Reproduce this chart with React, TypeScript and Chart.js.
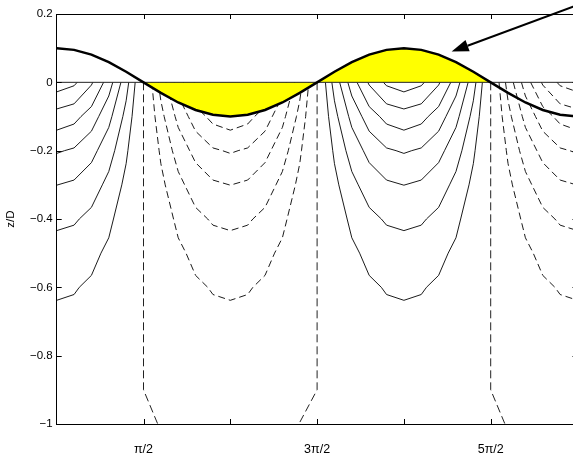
import React, { useEffect, useRef } from 'react';
import { Chart, registerables } from 'chart.js';

Chart.register(...registerables);

// x values are in units of π
const X_MIN = 0;
const X_MAX = 3;
const Y_MIN = -1;
const Y_MAX = 0.2;
const X_TICKS = [0.5, 1, 1.5, 2, 2.5];
const X_TICK_LABELS = ['π/2', '', '3π/2', '', '5π/2'];
const Y_TICKS = [-1, -0.8, -0.6, -0.4, -0.2, 0, 0.2];
const Y_TICK_LABELS = ['−1', '−0.8', '−0.6', '−0.4', '−0.2', '0', '0.2'];
const Y_TITLE = 'z/D';

// free surface elevation
const ETA_X = [0, 0.1, 0.2, 0.3, 0.4, 0.5, 0.6, 0.7, 0.8, 0.9, 1, 1.1, 1.2, 1.3, 1.4, 1.5, 1.6, 1.7, 1.8, 1.9, 2,
  2.1, 2.2, 2.3, 2.4, 2.5, 2.6, 2.7, 2.8, 2.9, 3];
const ETA = [0.1, 0.095, 0.081, 0.059, 0.031, 0, -0.031, -0.059, -0.081, -0.095, -0.1, -0.095, -0.081, -0.059,
  -0.031, 0, 0.031, 0.059, 0.081, 0.095, 0.1, 0.095, 0.081, 0.059, 0.031, 0, -0.031, -0.059, -0.081, -0.095, -0.1];
const FILL_START = 0.5;
const FILL_END = 2.5;

// half-U contour shapes: [offset from lobe centre (units of π), z/D]
const LEVEL_1 = [[0, -0.028], [0.1, -0.010], [0.118, 0]];
const LEVEL_2 = [[0, -0.078], [0.1, -0.063], [0.2, -0.008], [0.208, 0]];
const LEVEL_3 = [[0, -0.14], [0.1, -0.122], [0.14, -0.1], [0.2, -0.071], [0.27, 0]];
const LEVEL_4 = [[0, -0.208], [0.045, -0.2], [0.1, -0.192], [0.2, -0.143], [0.242, -0.1], [0.3, -0.04], [0.323, 0]];
const LEVEL_5 = [[0, -0.301], [0.1, -0.286], [0.2, -0.235], [0.234, -0.2], [0.3, -0.132], [0.318, -0.1], [0.37, 0]];
const LEVEL_6 = [[0, -0.434], [0.1, -0.418], [0.13, -0.4], [0.2, -0.366], [0.263, -0.3], [0.3, -0.261],
  [0.334, -0.2], [0.381, -0.1], [0.4, -0.054], [0.415, 0]];
const LEVEL_7 = [[0, -0.638], [0.1, -0.621], [0.13, -0.6], [0.2, -0.565], [0.255, -0.5], [0.3, -0.455],
  [0.327, -0.4], [0.375, -0.3], [0.4, -0.238], [0.41, -0.2], [0.434, -0.1], [0.452, 0]];
const LEVELS = [LEVEL_1, LEVEL_2, LEVEL_3, LEVEL_4, LEVEL_5, LEVEL_6, LEVEL_7];

// lobes: centre (units of π), dashed or solid, which halves are visible
const LOBE_CENTERS = [0, 1, 2, 3];
const LOBE_DASHED = [false, true, false, true];
const LOBE_SIDES = [[1], [-1, 1], [-1, 1], [-1]];

// zero contours
const ZERO_CONTOUR_1 = [[0.5, 0], [0.5, -0.9], [0.582, -1]];
const ZERO_CONTOUR_2 = [[1.5, 0], [1.5, -0.9], [1.395, -1]];
const ZERO_CONTOUR_3 = [[2.5, 0], [2.5, -0.9], [2.582, -1]];
const ZERO_CONTOURS = [ZERO_CONTOUR_1, ZERO_CONTOUR_2, ZERO_CONTOUR_3];

// annotation arrow (data units)
const ARROW_HEAD = [2.275, 0.09];
const ARROW_TAIL = [3.1, 0.245];

const CANVAS_W = 600;
const CANVAS_H = 457;
const FONT_FAMILY = '"Liberation Sans", Arial, Helvetica, sans-serif';
const Y_FONT = { family: FONT_FAMILY, size: 11.5 };
const X_FONT = { family: FONT_FAMILY, size: 12.5 };

function toPts(arr: number[][]) {
  return arr.map(([x, y]) => ({ x, y }));
}

const framePlugin = {
  id: 'frame',
  afterDraw(chart: any) {
    const { ctx, chartArea, scales } = chart;
    const { left, right, top, bottom } = chartArea;
    const xs = scales.x;
    const ys = scales.y;
    const al = (v: number) => Math.round(v) + 0.5;
    ctx.save();
    ctx.strokeStyle = '#000';
    ctx.lineWidth = 1;
    ctx.beginPath();
    ctx.moveTo(left, al(top));
    ctx.lineTo(right, al(top));
    ctx.moveTo(al(right), top);
    ctx.lineTo(al(right), bottom);
    const tl = 5;
    X_TICKS.forEach((v) => {
      const px = al(xs.getPixelForValue(v));
      ctx.moveTo(px, bottom);
      ctx.lineTo(px, bottom - tl);
      ctx.moveTo(px, top);
      ctx.lineTo(px, top + tl);
    });
    Y_TICKS.forEach((v) => {
      const py = al(ys.getPixelForValue(v));
      ctx.moveTo(left, py);
      ctx.lineTo(left + tl, py);
      ctx.moveTo(right, py);
      ctx.lineTo(right - tl, py);
    });
    ctx.stroke();

    // arrow
    const hx = xs.getPixelForValue(ARROW_HEAD[0]);
    const hy = ys.getPixelForValue(ARROW_HEAD[1]);
    const tx = xs.getPixelForValue(ARROW_TAIL[0]);
    const ty = ys.getPixelForValue(ARROW_TAIL[1]);
    const ang = Math.atan2(hy - ty, hx - tx);
    const headLen = 17;
    const headHalf = 6;
    const bx = hx - headLen * Math.cos(ang);
    const by = hy - headLen * Math.sin(ang);
    ctx.lineWidth = 2;
    ctx.beginPath();
    ctx.moveTo(tx, ty);
    ctx.lineTo(bx, by);
    ctx.stroke();
    ctx.fillStyle = '#000';
    ctx.beginPath();
    ctx.moveTo(hx, hy);
    ctx.lineTo(bx + headHalf * Math.sin(ang), by - headHalf * Math.cos(ang));
    ctx.lineTo(bx - headHalf * Math.sin(ang), by + headHalf * Math.cos(ang));
    ctx.closePath();
    ctx.fill();
    ctx.restore();
  },
};

export default function App() {
  const ref = useRef<HTMLCanvasElement | null>(null);

  useEffect(() => {
    if (!ref.current) return;
    const datasets: any[] = [];

    // surface line (top)
    datasets.push({
      data: ETA_X.map((x, i) => ({ x, y: ETA[i] })),
      borderColor: '#000',
      borderWidth: 2.5,
      pointRadius: 0,
      fill: false,
      tension: 0,
      order: 0,
    });
    // still water line
    datasets.push({
      data: [{ x: X_MIN, y: 0 }, { x: X_MAX, y: 0 }],
      borderColor: '#222',
      borderWidth: 1,
      pointRadius: 0,
      fill: false,
      order: 1,
    });
    // yellow fill between surface and still water level
    datasets.push({
      data: ETA_X.map((x, i) => ({ x, y: ETA[i] })).filter((p) => p.x >= FILL_START - 1e-9 && p.x <= FILL_END + 1e-9),
      borderColor: 'rgba(0,0,0,0)',
      borderWidth: 0,
      backgroundColor: '#ffff00',
      pointRadius: 0,
      fill: 'origin',
      tension: 0,
      order: 2,
    });
    // contours
    LOBE_CENTERS.forEach((c, li) => {
      const sides = LOBE_SIDES[li];
      LEVELS.forEach((lvl) => {
        let pts: { x: number; y: number }[] = [];
        if (sides.includes(-1)) {
          pts = pts.concat(lvl.slice().reverse().map(([d, z]) => ({ x: c - d, y: z })));
        }
        if (sides.includes(1)) {
          const right = lvl.map(([d, z]) => ({ x: c + d, y: z }));
          pts = pts.concat(sides.includes(-1) ? right.slice(1) : right);
        }
        datasets.push({
          data: pts,
          borderColor: '#000',
          borderWidth: 0.9,
          borderDash: LOBE_DASHED[li] ? [7, 4] : [],
          pointRadius: 0,
          fill: false,
          tension: 0,
          order: 3,
        });
      });
    });
    ZERO_CONTOURS.forEach((zc) => {
      datasets.push({
        data: toPts(zc),
        borderColor: '#222',
        borderWidth: 1,
        borderDash: [8, 4],
        pointRadius: 0,
        fill: false,
        tension: 0,
        order: 3,
      });
    });

    const chart = new Chart(ref.current, {
      type: 'line',
      data: { datasets },
      options: {
        responsive: false,
        maintainAspectRatio: false,
        animation: false,
        devicePixelRatio: 1,
        events: [],
        layout: { padding: { left: 0, top: 14, right: CANVAS_W - 577.5, bottom: 0 } },
        plugins: { legend: { display: false }, tooltip: { enabled: false } },
        scales: {
          x: {
            type: 'linear',
            min: X_MIN,
            max: X_MAX,
            afterBuildTicks: (ax: any) => {
              ax.ticks = X_TICKS.map((v) => ({ value: v }));
            },
            afterFit: (ax: any) => {
              ax.height = 33;
            },
            ticks: {
              autoSkip: false,
              maxRotation: 0,
              padding: 18,
              color: '#000',
              font: X_FONT,
              callback: (v: any) => X_TICK_LABELS[X_TICKS.indexOf(Number(v))] ?? '',
            },
            grid: { display: false, drawTicks: false },
            border: { display: true, color: '#000', width: 1 },
          },
          y: {
            type: 'linear',
            min: Y_MIN,
            max: Y_MAX,
            afterBuildTicks: (ax: any) => {
              ax.ticks = Y_TICKS.map((v) => ({ value: v }));
            },
            afterFit: (ax: any) => {
              ax.width = 56.7;
            },
            ticks: {
              autoSkip: false,
              padding: 4,
              color: '#000',
              font: Y_FONT,
              callback: (v: any) => {
                const i = Y_TICKS.findIndex((t) => Math.abs(t - Number(v)) < 1e-9);
                return i >= 0 ? Y_TICK_LABELS[i] : '';
              },
            },
            grid: { display: false, drawTicks: false },
            border: { display: true, color: '#000', width: 1 },
            title: {
              display: true,
              text: Y_TITLE,
              color: '#000',
              font: Y_FONT,
              padding: { top: 4, bottom: 0 },
            },
          },
        },
      },
      plugins: [framePlugin],
    });
    return () => chart.destroy();
  }, []);

  return (
    <div style={{ position: 'fixed', left: 0, top: 0, width: 573, height: 457, overflow: 'hidden', background: '#fff' }}>
      <canvas ref={ref} width={CANVAS_W} height={CANVAS_H} style={{ display: 'block', width: CANVAS_W, height: CANVAS_H }} />
    </div>
  );
}
